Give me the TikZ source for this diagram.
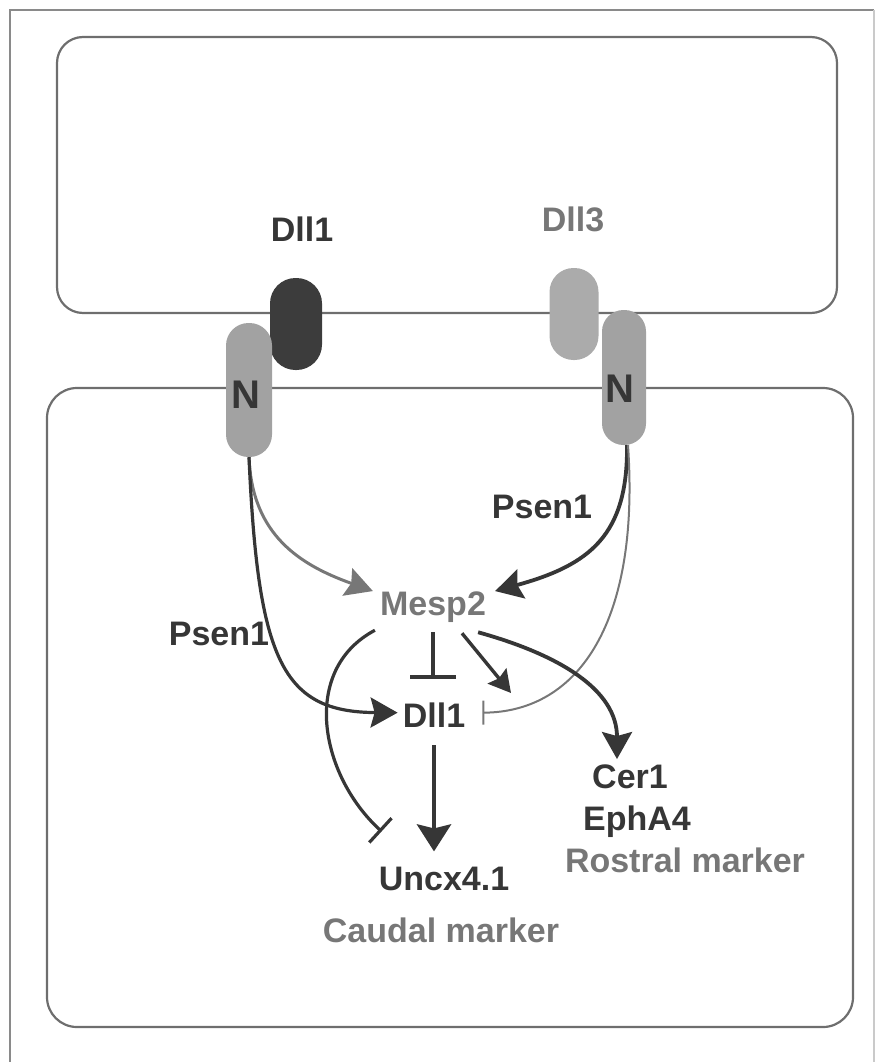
\documentclass[tikz,border=0pt]{standalone}
\usepackage{fontspec}
\setmainfont{Liberation Sans}
\usetikzlibrary{arrows.meta,calc}
\definecolor{ink}{HTML}{363636}
\definecolor{mid}{HTML}{777777}
\definecolor{framegray}{HTML}{8A8A8A}
\definecolor{cellline}{HTML}{6E6E6E}
\definecolor{receptor}{HTML}{A2A2A2}
\definecolor{ligandA}{HTML}{3C3C3C}
\definecolor{ligandB}{HTML}{ABABAB}

\begin{document}
\begin{tikzpicture}[x=1pt,y=-1pt,
  lbl/.style={font=\fontsize{34}{40}\selectfont\bfseries, inner sep=0pt, anchor=base},
  nlbl/.style={font=\fontsize{40}{46}\selectfont\bfseries, inner sep=0pt, anchor=base, text=ink},
  pill/.style={inner sep=0pt, draw=none},
  cell/.style={draw=cellline, line width=2.2pt},
  act/.style={draw=ink, line width=3.8pt, -{Stealth[length=27pt,width=30pt,inset=4pt]}},
  actsmall/.style={draw=ink, line width=3.4pt, -{Stealth[length=22pt,width=24pt,inset=3pt]}},
  inh/.style={draw=ink, line width=3pt, -{Bar[width=#1]}},
]
\useasboundingbox (0,0) rectangle (877,1062);

% outer frame
\begin{scope}
  \clip (0,0) rectangle (877,1062);
  \draw[framegray, line width=2pt] (10,1070) -- (10,10) -- (874,10);
  \draw[framegray!45, line width=1.5pt] (874,10) -- (874,1070);
\end{scope}

% the two neighbouring cells
\draw[cell, rounded corners=26pt] (57,37) rectangle (837,313);
\draw[cell, rounded corners=30pt] (47,388) rectangle (853,1027);

% ligands and receptors at the membranes
\node[pill, fill=ligandA, minimum width=52pt, minimum height=92pt, rounded corners=25.5pt] (dlA) at (296,324) {};
\node[pill, fill=receptor, minimum width=46pt, minimum height=134pt, rounded corners=22.5pt] (nL) at (249,390) {};
\node[pill, fill=ligandB, minimum width=49pt, minimum height=92pt, rounded corners=24pt] (dlB) at (574,314) {};
\node[pill, fill=receptor, minimum width=44pt, minimum height=135pt, rounded corners=21.5pt] (nR) at (624,377.5) {};

\node[nlbl] (tNL) at (246,408) {N};
\node[nlbl] (tNR) at (620,402) {N};

% labels
\node[lbl, text=ink] (tDll1) at (302,241) {Dll1};
\node[lbl, text=mid] (tDll3) at (573,231) {Dll3};
\node[lbl, text=mid] (mesp) at (433,615) {Mesp2};
\node[lbl, text=ink] (psL) at (219,645) {Psen1};
\node[lbl, text=ink] (psR) at (542,518) {Psen1};
\node[lbl, text=ink] (dllb) at (434,727) {Dll1};
\node[lbl, text=ink] (cer) at (630,788) {Cer1};
\node[lbl, text=ink] (eph) at (637,830) {EphA4};
\node[lbl, text=mid] (ros) at (685,872) {Rostral marker};
\node[lbl, text=ink] (unc) at (444,890) {Uncx4.1};
\node[lbl, text=mid] (cau) at (441,942) {Caudal marker};

\coordinate (fork) at (511,693);

% signalling from the left receptor
\draw[act, draw=mid, line width=3pt, -{Stealth[length=27pt,width=29pt,inset=4pt]}, mid]
  (nL.south) .. controls (252,535) and (300,565) .. ($(mesp.north west)+(-7,0)$);
\draw[act, line width=3.2pt]
  (nL.south) .. controls (258,660) and (282,712) .. ($(dllb.west)+(-5,-2)$);

% signalling from the right receptor
\draw[act]
  ($(nR.south)+(3,0)$) .. controls (628,535) and (590,565) .. ($(mesp.north east)+(9,0)$);
\draw[draw=mid, line width=2pt, -{Bar[width=24pt]}]
  ($(nR.south)+(4,0)$) .. controls (640,620) and (580,712) .. ($(dllb.east)+(17,-2)$);

% Mesp2 targets
\draw[inh=46pt, line width=4.2pt, shorten <=10pt, shorten >=23pt]
  (mesp.south) -- (mesp.south |- dllb.north);
\draw[actsmall] ($(mesp.south)+(29,11)$) -- (fork);
\draw[act]
  ($(mesp.south east)+(-8,10)$) .. controls (560,655) and (617,690) .. ($(cer.north)+(-13,-5)$);
\draw[inh=33pt, line width=3.2pt]
  ($(mesp.south west)+(-5,8)$) .. controls (300,670) and (320,775) .. ($(unc.north west)+(3,-35)$);

% Dll1 to Uncx4.1
\draw[act, line width=4.6pt, -{Stealth[length=27pt,width=34pt,inset=4pt]}, shorten <=18pt, shorten >=15pt]
  (dllb.south) -- (dllb.south |- unc.north);
\end{tikzpicture}
\end{document}
